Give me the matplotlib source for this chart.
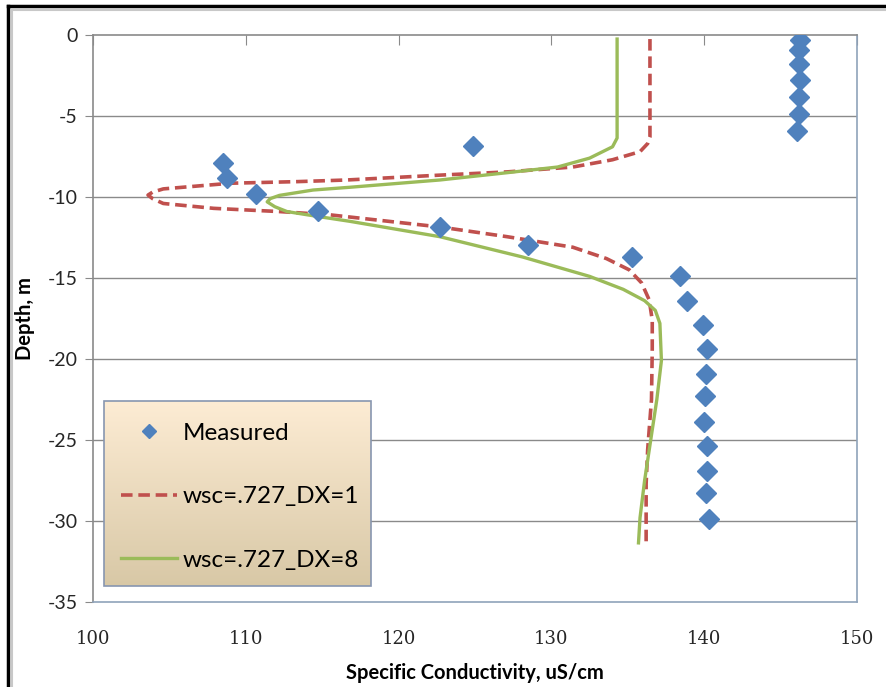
import numpy as np
import matplotlib
matplotlib.use("Agg")
import matplotlib.pyplot as plt
from matplotlib.lines import Line2D
from matplotlib.patches import Rectangle

# Measured specific conductivity profile
measured_depth = [-0.3, -0.9, -1.8, -2.8, -3.8, -4.9, -5.9, -6.85, -7.9, -8.8,
                  -9.8, -10.85, -11.85, -12.95, -13.7, -14.9, -16.4, -17.9,
                  -19.4, -20.9, -22.3, -23.9, -25.4, -26.9, -28.3, -29.9]
measured_sc = [146.3, 146.2, 146.2, 146.3, 146.2, 146.2, 146.1, 124.9, 108.5, 108.8,
               110.7, 114.7, 122.7, 128.5, 135.3, 138.4, 138.9, 139.9,
               140.2, 140.1, 140.05, 140.0, 140.2, 140.2, 140.1, 140.3]

# Model run wsc=.727, DX=1
dx1_depth = [-0.25, -6.3, -6.7, -7.2, -7.7, -8.15, -8.45, -8.65, -8.95, -9.05,
             -9.15, -9.5, -9.7, -9.88, -10.1, -10.4, -10.7, -10.9, -11.1, -11.85,
             -12.45, -13.1, -13.8, -14.5, -15.3, -16.35, -17.6, -19.4, -22.5,
             -25.6, -27.7, -31.35]
dx1_sc = [136.45, 136.45, 136.3, 135.8, 134.0, 131.4, 127.1, 122.7, 116.6, 113.4,
          109.0, 104.6, 103.9, 103.6, 103.9, 104.6, 107.9, 112.2, 115.5, 122.7,
          127.1, 131.4, 133.6, 135.1, 135.9, 136.4, 136.6, 136.6, 136.55,
          136.3, 136.2, 136.2]

# Model run wsc=.727, DX=8
dx8_depth = [-0.25, -6.36, -6.9, -7.6, -8.15, -8.5, -8.95, -9.4, -9.57, -9.9,
             -10.1, -10.3, -10.6, -10.9, -11.2, -11.5, -12.45, -13.7, -14.9,
             -15.7, -16.4, -17.0, -17.8, -20.1, -22.5, -25.0, -27.5, -29.8, -31.35]
dx8_sc = [134.3, 134.3, 134.0, 132.5, 130.4, 127.1, 122.7, 116.8, 114.4, 112.2,
          111.6, 111.4, 111.9, 112.7, 114.7, 116.8, 122.7, 128.1, 132.5,
          134.7, 136.1, 136.8, 137.1, 137.2, 136.9, 136.5, 136.1, 135.8, 135.7]

x_ticks = [100, 110, 120, 130, 140, 150]
y_ticks = [0, -5, -10, -15, -20, -25, -30, -35]

grid_grey = "#8a8a8a"
frame_blue = "#8fa3ba"

fig = plt.figure(figsize=(8.86, 6.87), dpi=100)
fig.patch.set_facecolor("white")
ax = fig.add_axes([93 / 886, 1 - 602 / 687, 764 / 886, 567 / 687])

for y in y_ticks[1:-1]:
    ax.axhline(y, color=grid_grey, lw=1.0, zorder=1)

ax.plot(dx1_sc, dx1_depth, color="#c0504d", lw=2.6, dashes=(3.2, 1.6),
        label="wsc=.727_DX=1", zorder=3)
ax.plot(dx8_sc, dx8_depth, color="#9bbb59", lw=2.4,
        label="wsc=.727_DX=8", zorder=3)
ax.plot(measured_sc, measured_depth, ls="none", marker="D", ms=10,
        color="#4f81bd", mec="#4f81bd", label="Measured", zorder=4)

ax.set_xlim(100, 150)
ax.set_ylim(-35, 0)
ax.set_xticks(x_ticks)
ax.set_yticks(y_ticks)
ax.set_xticklabels([str(v) for v in x_ticks], family="DejaVu Serif",
                   fontsize=13, color="#262626")
ax.set_yticklabels([str(v) for v in y_ticks], family="Lato",
                   fontsize=14, color="#262626")

ax.tick_params(axis="x", bottom=False, top=True, direction="in", length=7,
               color=grid_grey, labelbottom=True, labeltop=False, pad=20)
ax.tick_params(axis="y", left=True, direction="out", length=6,
               color=grid_grey, pad=5)

ax.spines["top"].set_color(grid_grey)
ax.spines["left"].set_color(grid_grey)
ax.spines["right"].set_color(frame_blue)
ax.spines["bottom"].set_color(frame_blue)
for s in ax.spines.values():
    s.set_linewidth(1.2)

ax.set_xlabel("Specific Conductivity, uS/cm", family="Lato", fontweight="bold",
              fontsize=14.5, labelpad=11)
ax.set_ylabel("Depth, m", family="Lato", fontweight="bold", fontsize=14.5,
              labelpad=9)

# legend box with a vertical cream-to-tan gradient
lx0, lx1 = 11 / 764, 278 / 764
ly0, ly1 = 16 / 567, 201 / 567
top_c = np.array([253, 236, 212]) / 255
bot_c = np.array([216, 200, 166]) / 255
t = np.linspace(0, 1, 256)[:, None]
grad = (top_c * (1 - t) + bot_c * t)[:, None, :]
ax.imshow(grad, extent=(lx0, lx1, ly0, ly1), transform=ax.transAxes,
          aspect="auto", zorder=5, interpolation="bilinear")
ax.add_patch(Rectangle((lx0, ly0), lx1 - lx0, ly1 - ly0, transform=ax.transAxes,
                       fill=False, ec="#8796b0", lw=1.2, zorder=6))
ax.set_xlim(100, 150)
ax.set_ylim(-35, 0)

handles, labels = ax.get_legend_handles_labels()
order = [2, 0, 1]
leg = ax.legend([handles[i] for i in order], [labels[i] for i in order],
                loc="upper left", bbox_to_anchor=(lx0 - 5 / 764, ly1), frameon=False,
                prop={"family": "Lato", "size": 17.5}, handlelength=2.3,
                handletextpad=0.25, labelspacing=1.75, borderpad=0.9,
                borderaxespad=0, markerscale=0.75)
leg.set_zorder(7)

# outer chart border
fig.add_artist(Line2D([8 / 886, 1], [1 - 6 / 687, 1 - 6 / 687], color="black", lw=2.5))
fig.add_artist(Line2D([8 / 886, 8 / 886], [0, 1 - 6 / 687], color="black", lw=2.5))
fig.add_artist(Line2D([12 / 886, 1], [1 - 10 / 687, 1 - 10 / 687], color="#c8c8c8", lw=1.5))
fig.add_artist(Line2D([12 / 886, 12 / 886], [0, 1 - 10 / 687], color="#c8c8c8", lw=1.5))

fig.savefig("out.png", dpi=100)
